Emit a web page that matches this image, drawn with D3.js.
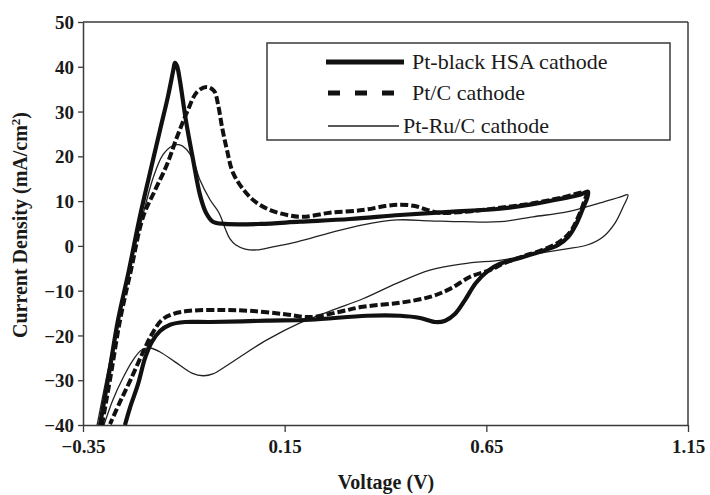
<!DOCTYPE html>
<html><head><meta charset="utf-8">
<script src="https://cdn.jsdelivr.net/npm/d3@7"></script>
<style>body{margin:0;background:#fff}svg{display:block}</style>
</head><body>
<script>
// ---- data (Voltage V, Current density mA/cm2) ----
const xTicks = [-0.35, 0.15, 0.65, 1.15];
const yTicks = [-40, -30, -20, -10, 0, 10, 20, 30, 40, 50];
const seriesNames = ["Pt-black HSA cathode", "Pt/C cathode", "Pt-Ru/C cathode"];

const ptBlackV = [-0.308,-0.286,-0.263,-0.236,-0.209,-0.184,-0.159,-0.139,-0.126,-0.122,-0.117,-0.110,-0.095,-0.077,-0.060,-0.045,-0.028,0.002,0.089,0.188,0.312,0.436,0.560,0.684,0.758,0.833,0.882,0.902,
  0.900,0.890,0.872,0.853,0.828,0.783,0.733,0.684,0.654,0.624,0.597,0.572,0.548,0.523,0.486,0.436,0.354,0.213,0.106,-0.035,-0.097,-0.134,-0.159,-0.179,-0.196,-0.214,-0.233,-0.246];
const ptBlackI = [-40.0,-28.8,-16.5,-5.4,6.5,16.3,25.9,33.5,39.3,40.9,40.2,37.1,28.1,19.2,11.4,7.4,5.4,4.9,4.9,5.4,6.0,6.9,7.6,8.3,9.2,10.5,11.4,12.1,
  10.7,8.5,4.7,2.0,0.2,-1.3,-2.7,-4.0,-5.6,-8.3,-12.1,-15.2,-16.7,-17.0,-16.1,-15.6,-15.6,-16.5,-16.7,-17.0,-17.0,-17.6,-19.0,-21.4,-25.0,-31.0,-36.0,-40.0];

const ptCV = [-0.303,-0.281,-0.258,-0.231,-0.201,-0.171,-0.142,-0.117,-0.092,-0.067,-0.043,-0.025,-0.015,-0.005,0.007,0.022,0.052,0.081,0.114,0.156,0.195,0.262,0.344,0.399,0.436,0.473,0.505,0.535,0.592,0.684,0.758,0.833,0.897,
  0.892,0.877,0.858,0.828,0.783,0.746,0.696,0.659,0.610,0.560,0.510,0.436,0.344,0.287,0.213,0.146,0.064,-0.003,-0.085,-0.127,-0.154,-0.179,-0.204,-0.233,-0.258,-0.283];
const ptCI = [-40,-28.8,-16.5,-5.4,6.5,12.5,18.1,24.3,29.9,34.4,35.5,34.6,31.5,26.4,21.4,16.3,12.1,9.6,8.0,6.9,6.5,7.4,8.0,8.9,9.2,8.9,8.0,7.4,7.6,8.5,9.4,10.7,11.8,
  9.8,6.3,3.1,0.7,-1.1,-2.2,-3.8,-5.4,-6.9,-9.6,-11.4,-12.7,-13.6,-14.7,-15.9,-15.2,-14.5,-14.3,-14.5,-15.2,-16.5,-19.7,-24.3,-30.1,-34.8,-39.8];

const ptRuV = [-0.315,-0.293,-0.268,-0.238,-0.209,-0.176,-0.152,-0.129,-0.112,-0.095,-0.077,-0.060,-0.035,-0.013,0.002,0.014,0.029,0.052,0.081,0.121,0.181,0.262,0.344,0.429,0.510,0.592,0.684,0.766,0.850,0.932,0.981,1.001,
  0.989,0.969,0.939,0.900,0.845,0.758,0.691,0.592,0.510,0.429,0.344,0.270,0.188,0.106,0.039,0.002,-0.028,-0.052,-0.080,-0.122,-0.159,-0.184,-0.204,-0.226,-0.251,-0.276,-0.298];
const ptRuI = [-40,-29.9,-18.8,-6.5,4.2,15.2,20.3,22.3,22.6,21.7,19.2,14.7,10.3,7.4,4.0,1.6,0.2,-0.7,-0.9,-0.2,0.9,2.9,4.7,5.8,5.6,5.4,5.4,6.5,7.6,9.6,10.9,11.4,
  8.7,5.1,2.0,0.2,-0.7,-2.0,-3.1,-4.0,-5.4,-8.3,-11.8,-14.3,-17.2,-21.0,-24.8,-27.0,-28.6,-29.0,-28.4,-25.9,-23.7,-22.8,-23.2,-25.5,-29.5,-34.4,-40];

// ---- layout ----
const W = 710, H = 495;
const m = {left: 83, right: W - 688, top: 22, bottom: H - 425};
const svg = d3.select("body").append("svg").attr("width", W).attr("height", H)
  .style("font-family", "'Liberation Serif','Times New Roman',serif");

const x = d3.scaleLinear().domain([-0.35, 1.15]).range([m.left, W - m.right]);
const y = d3.scaleLinear().domain([-40, 50]).range([H - m.bottom, m.top]);

svg.append("defs").append("clipPath").attr("id", "clip")
  .append("rect").attr("x", m.left).attr("y", m.top)
  .attr("width", x.range()[1] - m.left).attr("height", y.range()[0] - m.top);

const txtCol = "#1a1a1a", axCol = "#3a3a3a";

// axes
const xAxis = svg.append("g").attr("transform", `translate(0,${y(-40)})`)
  .call(d3.axisBottom(x).tickValues(xTicks).tickSize(7).tickSizeOuter(0)
    .tickFormat(d => d3.format(".2f")(d).replace("-", "\u2212")));
const yAxis = svg.append("g").attr("transform", `translate(${m.left},0)`)
  .call(d3.axisLeft(y).tickValues(yTicks).tickSize(5).tickSizeOuter(0)
    .tickFormat(d => String(d).replace("-", "\u2212")));
[xAxis, yAxis].forEach(g => {
  g.select(".domain").attr("stroke", axCol).attr("stroke-width", 1.5);
  g.selectAll(".tick line").attr("stroke", axCol).attr("stroke-width", 1.3);
  g.selectAll(".tick text").attr("fill", txtCol).style("font-size", "19px")
    .style("font-weight", "bold").style("font-family", "'Liberation Serif',serif");
});
xAxis.selectAll(".tick text").attr("dy", "0.95em");
yAxis.selectAll(".tick text").attr("x", -9).attr("dy", "0.35em");

// frame top & right
svg.append("line").attr("x1", m.left).attr("x2", x.range()[1]).attr("y1", m.top).attr("y2", m.top)
  .attr("stroke", axCol).attr("stroke-width", 1.5);
svg.append("line").attr("x1", x.range()[1]).attr("x2", x.range()[1]).attr("y1", m.top).attr("y2", y(-40))
  .attr("stroke", axCol).attr("stroke-width", 1.5);

// axis titles
svg.append("text").attr("x", 386).attr("y", 489).attr("text-anchor", "middle")
  .style("font-size", "20px").style("font-weight", "bold").attr("fill", txtCol).text("Voltage (V)");
const yt = svg.append("text").attr("transform", "translate(27,225) rotate(-90)").attr("text-anchor", "middle")
  .style("font-size", "20px").style("font-weight", "bold").attr("fill", txtCol);
yt.append("tspan").text("Current Density (mA/cm");
yt.append("tspan").attr("dy", -7).style("font-size", "13px").text("2");
yt.append("tspan").attr("dy", 7).text(")");

// curves
const line = d3.line().x(d => x(d[0])).y(d => y(d[1])).curve(d3.curveCatmullRom.alpha(0.5));
const zip = (a, b) => a.map((v, i) => [v, b[i]]);
const plot = svg.append("g").attr("clip-path", "url(#clip)");
plot.append("path").datum(zip(ptRuV, ptRuI)).attr("d", line).attr("fill", "none")
  .attr("stroke", "#222").attr("stroke-width", 1.3);
plot.append("path").datum(zip(ptBlackV, ptBlackI)).attr("d", line).attr("fill", "none")
  .attr("stroke", "#111").attr("stroke-width", 4.2).attr("stroke-linejoin", "round");
plot.append("path").datum(zip(ptCV, ptCI)).attr("d", line).attr("fill", "none")
  .attr("stroke", "#111").attr("stroke-width", 4).attr("stroke-dasharray", "8,3");

// legend
const lg = svg.append("g");
lg.append("rect").attr("x", 267).attr("y", 43).attr("width", 403).attr("height", 97)
  .attr("fill", "#fff").attr("stroke", axCol).attr("stroke-width", 1.5);
const rows = [62, 93, 126];
lg.append("line").attr("x1", 326).attr("x2", 404).attr("y1", rows[0]).attr("y2", rows[0])
  .attr("stroke", "#111").attr("stroke-width", 5);
lg.append("line").attr("x1", 328).attr("x2", 394).attr("y1", rows[1]).attr("y2", rows[1])
  .attr("stroke", "#111").attr("stroke-width", 5).attr("stroke-dasharray", "12,15");
lg.append("line").attr("x1", 328).attr("x2", 399).attr("y1", rows[2]).attr("y2", rows[2])
  .attr("stroke", "#222").attr("stroke-width", 1.3);
const lx = [412, 412, 403];
seriesNames.forEach((n, i) => {
  lg.append("text").attr("x", lx[i]).attr("y", rows[i]).attr("dy", "0.33em")
    .style("font-size", "22px").attr("fill", txtCol).text(n);
});
</script>
</body></html>
